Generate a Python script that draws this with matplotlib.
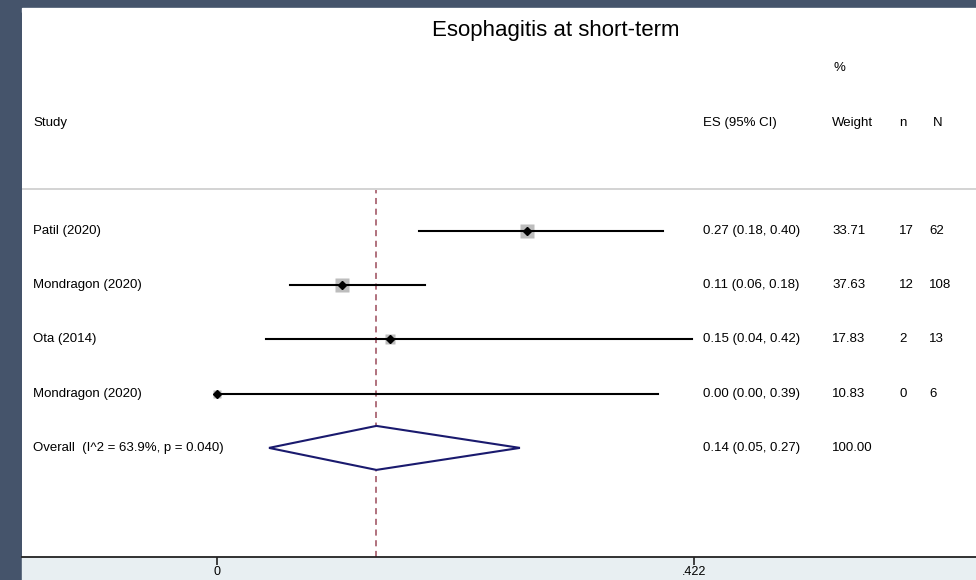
import numpy as np
import matplotlib
matplotlib.use('Agg')
import matplotlib.pyplot as plt
from matplotlib.patches import Rectangle

plt.rcParams['font.family'] = ['Liberation Sans', 'DejaVu Sans']

# study level estimates (proportion with 95% CI)
studies = ['Patil (2020)', 'Mondragon (2020)', 'Ota (2014)', 'Mondragon (2020)']
es = [0.274, 0.111, 0.153, 0.0]
ci_low = [0.179, 0.065, 0.043, 0.0]
ci_high = [0.395, 0.184, 0.42, 0.39]
weights = [33.71, 37.63, 17.83, 10.83]
n_events = [17, 12, 2, 0]
n_total = [62, 108, 13, 6]
es_labels = ['0.27 (0.18, 0.40)', '0.11 (0.06, 0.18)', '0.15 (0.04, 0.42)',
             '0.00 (0.00, 0.39)']

# pooled estimate
overall_label = 'Overall  (I^2 = 63.9%, p = 0.040)'
overall_es = 0.141
overall_low = 0.046
overall_high = 0.268
overall_es_label = '0.14 (0.05, 0.27)'
overall_weight = '100.00'

xticks = [0, 0.422]
xtick_labels = ['0', '.422']

W, H = 976, 580
BORDER = '#45546b'
PANEL_EDGE = '#e8eff2'

fig = plt.figure(figsize=(W / 100, H / 100), dpi=100, facecolor=BORDER)

# axes covers the white panel, x from 22px to the right edge, y from 8px to 557px
left_px, top_px, bottom_px = 22, 8, 557
ax = fig.add_axes([left_px / W, 1 - bottom_px / H, 1 - left_px / W,
                   (bottom_px - top_px) / H])
ax.set_facecolor('white')

px_per_unit = 477 / 0.422
x0_px = 217
ax.set_xlim((left_px - x0_px) / px_per_unit, (W - x0_px) / px_per_unit)

row0_px, row_step = 230.7, 54.3
ax.set_ylim((bottom_px - row0_px) / row_step, (top_px - row0_px) / row_step)


def col(px):
    return (px - x0_px) / px_per_unit


def row(py):
    return (py - row0_px) / row_step


for s in ['top', 'left', 'right']:
    ax.spines[s].set_visible(False)
ax.spines['bottom'].set_linewidth(1.3)
ax.spines['bottom'].set_color('#222222')
ax.set_yticks([])
ax.set_xticks(xticks)
ax.set_xticklabels(xtick_labels, fontsize=9)
ax.tick_params(axis='x', length=6, width=1.2, pad=0.5, color='#222222')

# light strip along top of panel and below the axis (behind the axes)
fig.patches.append(Rectangle((left_px / W, 1 - 12 / H), 1 - left_px / W, 4 / H,
                             transform=fig.transFigure, color=PANEL_EDGE, zorder=-1))
fig.patches.append(Rectangle((left_px / W, 0), 1 - left_px / W, (H - bottom_px) / H,
                             transform=fig.transFigure, color=PANEL_EDGE, zorder=-1))

# header separator
ax.axhline(row(189), color='#cccccc', lw=1.2)

# pooled effect reference line
ax.axvline(overall_es, ymin=0, ymax=(bottom_px - 190) / (bottom_px - top_px),
           color='#9b4a5a', lw=1.1, ls=(0, (4, 3)))

rows = np.arange(len(studies))
fs = 9.5

for i in rows:
    side_px = 2.3 * np.sqrt(weights[i])
    ax.plot(es[i], i, marker='s', ms=side_px / 1.389, color='#bdbdbd',
            mec='none', zorder=2)
    ax.plot([ci_low[i], ci_high[i]], [i, i], color='black', lw=1.5, zorder=3)
    ax.plot(es[i], i, marker='D', ms=4.5, color='black', zorder=4)

    ax.text(col(33), i, studies[i], fontsize=fs, va='center')
    ax.text(col(703), i, es_labels[i], fontsize=fs, va='center')
    ax.text(col(832), i, f'{weights[i]:.2f}', fontsize=fs, va='center')
    ax.text(col(899), i, str(n_events[i]), fontsize=fs, va='center')
    ax.text(col(929), i, str(n_total[i]), fontsize=fs, va='center')

# pooled diamond
yo = len(studies)
half_h = 22 / row_step
ax.fill([overall_low, overall_es, overall_high, overall_es],
        [yo, yo - half_h, yo, yo + half_h],
        facecolor='white', edgecolor='#1a1a6e', lw=1.5, zorder=3)
ax.text(col(33), yo, overall_label, fontsize=fs, va='center')
ax.text(col(703), yo, overall_es_label, fontsize=fs, va='center')
ax.text(col(832), yo, overall_weight, fontsize=fs, va='center')

# column headers
hy = row(123)
ax.text(col(33), hy, 'Study', fontsize=fs, va='center')
ax.text(col(703), hy, 'ES (95% CI)', fontsize=fs, va='center')
ax.text(col(832), hy, 'Weight', fontsize=fs, va='center')
ax.text(col(899), hy, 'n', fontsize=fs, va='center')
ax.text(col(933), hy, 'N', fontsize=fs, va='center')
ax.text(col(833), row(68), '%', fontsize=fs, va='center')

ax.text(col(556), row(31), 'Esophagitis at short-term', fontsize=16,
        ha='center', va='center')

fig.savefig('out.png', dpi=100, facecolor=fig.get_facecolor())
